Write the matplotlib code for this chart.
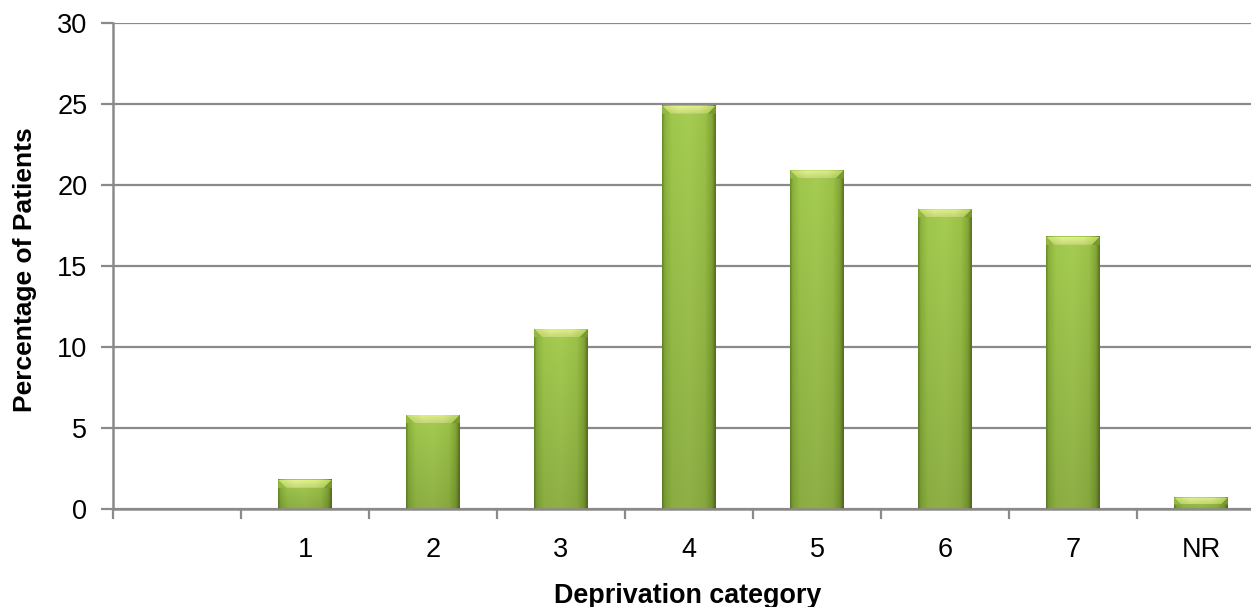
import numpy as np
import matplotlib
matplotlib.use("Agg")
import matplotlib.pyplot as plt
from matplotlib.colors import LinearSegmentedColormap, to_rgb
from matplotlib.patches import Polygon

# Share of patients by deprivation category
categories = ["", "1", "2", "3", "4", "5", "6", "7", "NR"]
percentages = [0.0, 1.8, 5.8, 11.1, 24.9, 20.9, 18.5, 16.8, 0.7]

y_ticks = [0, 5, 10, 15, 20, 25, 30]

plt.rcParams["font.family"] = ["Liberation Sans", "DejaVu Sans"]

W, H = 1251, 607
fig = plt.figure(figsize=(W / 100, H / 100), dpi=100)

# axes spans slightly past the right edge of the canvas
left_px, right_px, top_px, bottom_px = 113, 1265, 23, 509
ax = fig.add_axes([left_px / W, 1 - bottom_px / H,
                   (right_px - left_px) / W, (bottom_px - top_px) / H])

n = len(categories)
ax.set_xlim(0, n)
ax.set_ylim(0, 30)

grey = "#8a8a8a"
ax.set_axisbelow(True)
ax.yaxis.grid(True, color=grey, linewidth=1.6)
ax.set_yticks(y_ticks)
ax.set_yticklabels([str(t) for t in y_ticks], fontsize=19.5)

# major ticks on category boundaries, labels centred on categories
ax.set_xticks(np.arange(0, n + 1))
ax.set_xticklabels([])
ax.set_xticks(np.arange(n) + 0.5, minor=True)
ax.set_xticklabels(categories, minor=True, fontsize=19.5)
ax.tick_params(axis="x", which="major", direction="out", length=7, width=1.6, color=grey)
ax.tick_params(axis="x", which="minor", length=0, pad=20)
ax.tick_params(axis="y", direction="out", length=9, width=1.6, color=grey, pad=9.5)

for side in ("top", "right"):
    ax.spines[side].set_visible(False)
for side in ("left", "bottom"):
    ax.spines[side].set_color(grey)
    ax.spines[side].set_linewidth(1.8)

# horizontal shading of the bar body
body_cmap = LinearSegmentedColormap.from_list("body", [
    (0.00, "#6a8a28"),
    (0.05, "#8cb43c"),
    (0.18, "#a0c84c"),
    (0.50, "#a6cc53"),
    (0.80, "#9cc247"),
    (0.93, "#84a636"),
    (1.00, "#567420"),
])
row = body_cmap(np.linspace(0, 1, 128))[:, :3]
shade = np.linspace(1.0, 0.86, 64)[:, None, None]   # darker towards the base
body_img = np.clip(row[None, :, :] * shade, 0, 1)

face_top = np.array(to_rgb("#e4f690"))
face_bot = np.array(to_rgb("#bedc5e"))
t = np.linspace(0, 1, 16)[:, None, None]
face_row = LinearSegmentedColormap.from_list("face", [
    (0.0, "#c6e26a"), (0.3, "#e2f48c"), (0.7, "#dcf084"), (1.0, "#b8d85a")])(np.linspace(0, 1, 64))[:, :3]
face_img = np.clip(face_row[None, :, :] * (1 - 0.12 * t), 0, 1)

bar_w = 0.42
px_x = (right_px - left_px) / n     # pixels per x unit
px_y = (bottom_px - top_px) / 30.0  # pixels per y unit
bevel_x = 8 / px_x
bevel_y = 8 / px_y

for i, v in enumerate(percentages):
    if v <= 0:
        continue
    x0 = i + 0.5 - bar_w / 2
    x1 = i + 0.5 + bar_w / 2
    ax.imshow(body_img, aspect="auto", extent=(x0, x1, 0, v),
              zorder=2, interpolation="bilinear")
    d = min(bevel_y, v * 0.6)
    ex = bevel_x * d / bevel_y
    # light bevelled top face
    face = Polygon([(x0, v), (x1, v), (x1 - ex, v - d), (x0 + ex, v - d)],
                   closed=True, facecolor="none", edgecolor="none")
    ax.add_patch(face)
    im = ax.imshow(face_img, aspect="auto", extent=(x0, x1, v - d, v),
                   zorder=3, interpolation="bilinear")
    im.set_clip_path(face)
    # shaded corners of the bevel
    ax.add_patch(Polygon([(x0, v), (x0 + ex, v - d), (x0, v - d)],
                         closed=True, facecolor="#94b844", edgecolor="none", zorder=3))
    ax.add_patch(Polygon([(x1, v), (x1 - ex, v - d), (x1, v - d)],
                         closed=True, facecolor="#789a2e", edgecolor="none", zorder=3))

ax.set_ylabel("Percentage of Patients", fontsize=19, fontweight="bold",
              va="center", ha="center")
ax.yaxis.set_label_coords(25 / W, 1 - 270 / H, transform=fig.transFigure)
ax.set_xlabel("Deprivation category", fontsize=19.4, fontweight="bold",
              va="baseline", ha="center")
ax.xaxis.set_label_coords(688 / W, 1 - 603 / H, transform=fig.transFigure)

fig.savefig("out.png", dpi=100)
